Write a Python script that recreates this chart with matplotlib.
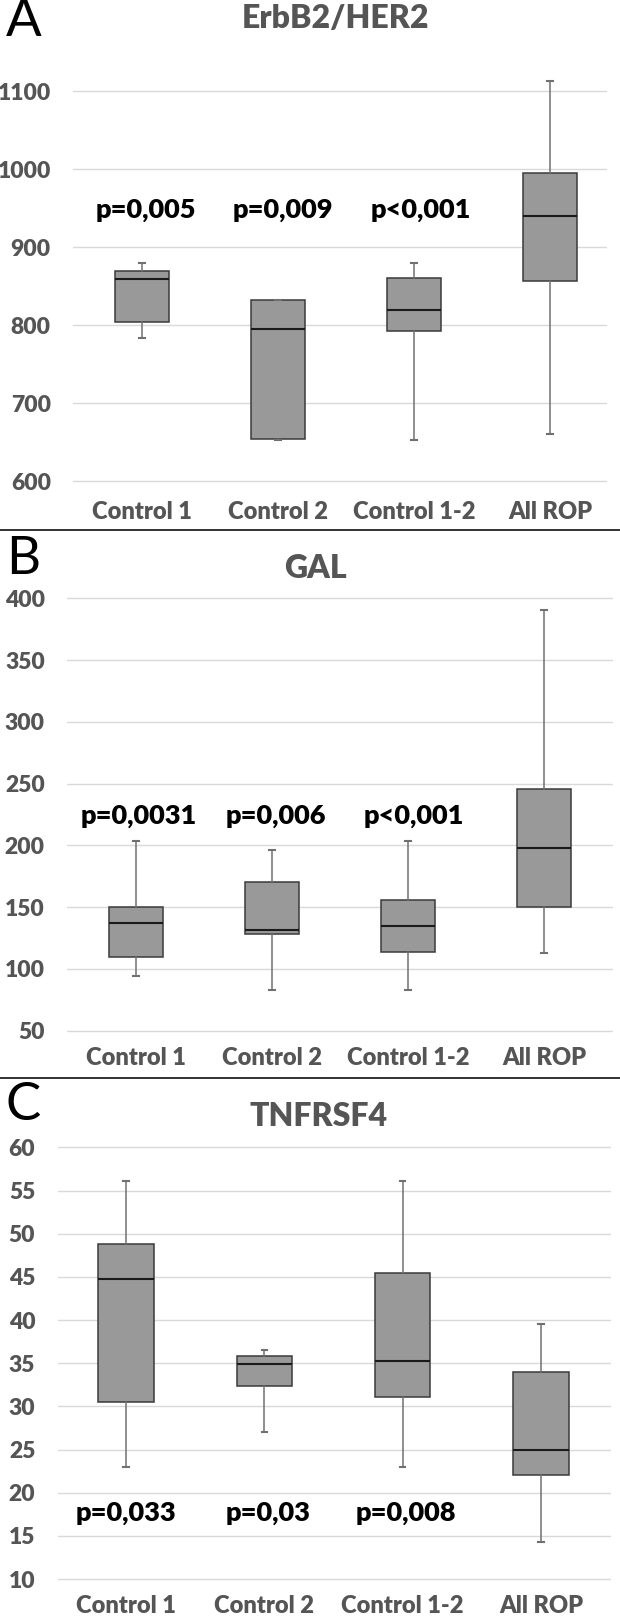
import matplotlib
matplotlib.use("Agg")
import matplotlib.pyplot as plt
from matplotlib.font_manager import FontProperties

plt.rcParams['font.family'] = ['Lato', 'DejaVu Sans']
plt.rcParams['font.weight'] = 'heavy'

categories = ["Control 1", "Control 2", "Control 1-2", "All ROP"]

# Panel A: ErbB2/HER2
a_whislo = [784, 652, 652, 660]
a_q1 = [804, 654, 792, 856]
a_med = [859, 795, 820, 940]
a_q3 = [870, 832, 861, 995]
a_whishi = [880, 832, 880, 1113]
a_p = ["p=0,005", "p=0,009", "p<0,001"]
a_ticks = [600, 700, 800, 900, 1000, 1100]

# Panel B: GAL
b_whislo = [94, 83, 83, 113]
b_q1 = [110, 128.6, 113.4, 150]
b_med = [137.5, 131.4, 134.5, 198]
b_q3 = [150, 170, 156, 246]
b_whishi = [204, 196, 204, 391]
b_p = ["p=0,0031", "p=0,006", "p<0,001"]
b_ticks = [50, 100, 150, 200, 250, 300, 350, 400]

# Panel C: TNFRSF4
c_whislo = [23, 27, 23, 14.3]
c_q1 = [30.5, 32.4, 31.1, 22]
c_med = [44.7, 34.9, 35.3, 25]
c_q3 = [48.8, 35.8, 45.5, 34]
c_whishi = [56.1, 36.5, 56.1, 39.5]
c_p = ["p=0,033", "p=0,03", "p=0,008"]
c_ticks = [10, 15, 20, 25, 30, 35, 40, 45, 50, 55, 60]

W, H = 620, 1621
DPI = 100
fig = plt.figure(figsize=(W / DPI, H / DPI), dpi=DPI)

GRAY_TXT = "#555555"
YFONT = FontProperties(family='Lato', weight='heavy', size=16.5)
XFONT = FontProperties(family='Lato', weight='heavy', size=17)


def add_axes_px(left, right, top, bottom):
    return fig.add_axes([left / W, 1 - bottom / H, (right - left) / W, (bottom - top) / H])


def draw_panel(ax, whislo, q1, med, q3, whishi, ticks, ylim, xlim, pvals, p_y, p_dx, xpad):
    stats = []
    for i in range(len(categories)):
        stats.append(dict(whislo=whislo[i], q1=q1[i], med=med[i], q3=q3[i],
                          whishi=whishi[i], fliers=[], label=categories[i]))
    ax.bxp(stats, positions=range(len(categories)), widths=0.40, patch_artist=True,
           showfliers=False,
           boxprops=dict(facecolor="#999999", edgecolor="#3a3a3a", linewidth=1.1),
           medianprops=dict(color="#1a1a1a", linewidth=1.5),
           whiskerprops=dict(color="#707070", linewidth=1.1),
           capprops=dict(color="#707070", linewidth=1.5),
           capwidths=0.04)
    ax.set_ylim(*ylim)
    ax.set_xlim(*xlim)
    ax.yaxis.grid(True, color="#d9d9d9", linewidth=1.0)
    ax.set_axisbelow(True)
    for s in ax.spines.values():
        s.set_visible(False)
    ax.tick_params(axis='both', length=0, labelcolor=GRAY_TXT)
    ax.tick_params(axis='y', pad=16)
    ax.tick_params(axis='x', pad=xpad)
    ax.set_yticks(ticks)
    ax.set_yticklabels([str(t) for t in ticks])
    ax.set_xticks(range(len(categories)))
    ax.set_xticklabels(categories)
    for i, t in enumerate(pvals):
        ax.text(i + p_dx[i], p_y, t, ha='center', va='center', fontsize=19.5,
                fontweight='heavy', color='black')


# Panel A
axA = add_axes_px(73, 607, 67.9, 496.6)
draw_panel(axA, a_whislo, a_q1, a_med, a_q3, a_whishi, a_ticks, (580, 1130),
           (-0.507, 3.42), a_p, 948, [0.03, 0.04, 0.05], 3)

# Panel B
axB = add_axes_px(67, 613, 573.8, 1043)
draw_panel(axB, b_whislo, b_q1, b_med, b_q3, b_whishi, b_ticks, (40, 420),
           (-0.507, 3.507), b_p, 224, [0.02, 0.03, 0.04], 3)

# Panel C
axC = add_axes_px(57.5, 611, 1130.1, 1592)
draw_panel(axC, c_whislo, c_q1, c_med, c_q3, c_whishi, c_ticks, (8.5, 62),
           (-0.495, 3.506), c_p, 17.7, [0.0, 0.03, 0.02], 2)

# Titles
fig.text(335 / W, 1 - 19 / H, "ErbB2/HER2", ha='center', va='center', fontsize=23,
         fontweight='heavy', color=GRAY_TXT)
fig.text(315 / W, 1 - 568 / H, "GAL", ha='center', va='center', fontsize=23,
         fontweight='heavy', color=GRAY_TXT)
fig.text(319 / W, 1 - 1116 / H, "TNFRSF4", ha='center', va='center', fontsize=23,
         fontweight='heavy', color=GRAY_TXT)

# Panel letters
for letter, yc in [("A", 22), ("B", 560), ("C", 1106)]:
    fig.text(6 / W, 1 - yc / H, letter, ha='left', va='center', fontsize=38,
             fontweight='normal', color='black')

# Separator lines
for yl in [530, 1078]:
    fig.add_artist(plt.Line2D([0, 1], [1 - yl / H, 1 - yl / H], color='#222222',
                              linewidth=1.3, transform=fig.transFigure))

# Make sure all tick labels use the heavy face
fig.canvas.draw()
for ax in (axA, axB, axC):
    for lab in ax.get_yticklabels():
        lab.set_fontproperties(YFONT)
        lab.set_color(GRAY_TXT)
    for lab in ax.get_xticklabels():
        lab.set_fontproperties(XFONT)
        lab.set_color(GRAY_TXT)

fig.savefig("out.png", dpi=DPI, facecolor='white')
